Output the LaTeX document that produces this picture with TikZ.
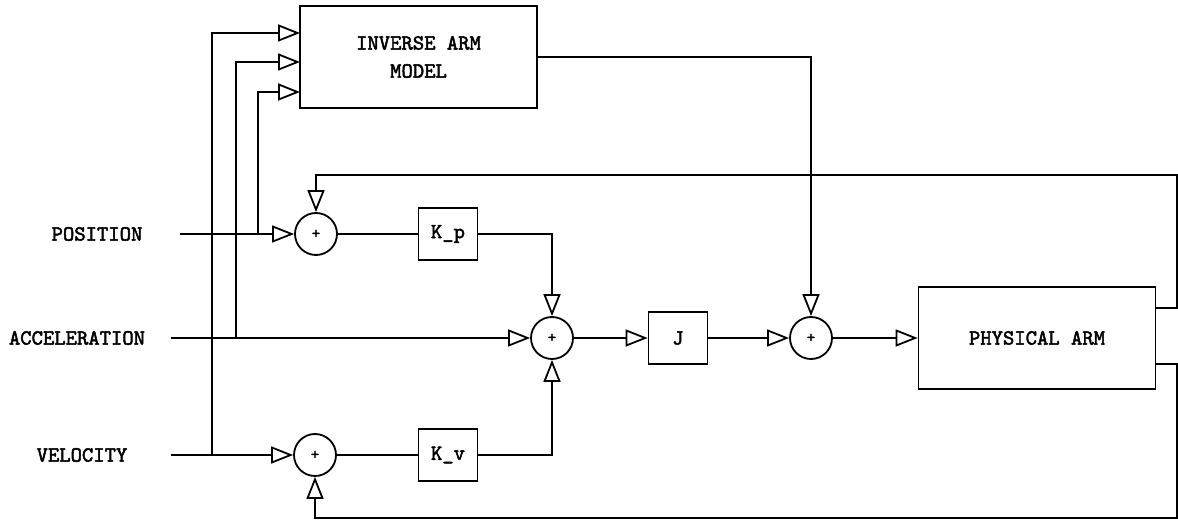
\documentclass[tikz,border=0pt]{standalone}
\usepackage{fontspec}
\setmonofont{lmmono10-regular.otf}[AutoFakeBold=2.2]
\usepackage{tikz}
\usetikzlibrary{arrows.meta,positioning,calc}

\begin{document}
\begin{tikzpicture}[x=0.5pt,y=-0.5pt,>={Triangle[open,length=11pt,width=8.5pt]},line width=0.9pt,
  lbl/.style={font=\ttfamily\bfseries\fontsize{10.8}{14}\selectfont},
  blk/.style={draw,lbl,minimum width=29.5pt,minimum height=26pt,inner sep=0pt},
  bigblk/.style={blk,minimum width=118.5pt,minimum height=51pt,align=center},
  sumnode/.style={draw,circle,minimum size=21pt,inner sep=0pt,font=\ttfamily\bfseries\fontsize{8}{8}\selectfont}]
  \useasboundingbox (0,0) rectangle (1178,523);
  % blocks
  \node[bigblk] (inv) at (418.5,57) {INVERSE ARM\\MODEL};
  \node[bigblk] (arm) at (1037,338) {PHYSICAL ARM};
  \node[sumnode] (s1) at (316,234) {+};
  \node[sumnode] (s2) at (552,338) {+};
  \node[sumnode] (s3) at (315,455) {+};
  \node[sumnode] (s4) at (811,338) {+};
  \node[blk] (kp) at (448,234) {K\_p};
  \node[blk] (kv) at (448,455) {K\_v};
  \node[blk] (j) at (678,338) {J};
  % inputs
  \node[lbl] (pos) at (97,234) {POSITION};
  \node[lbl] (acc) at (77,338) {ACCELERATION};
  \node[lbl] (vel) at (82,455) {VELOCITY};
  \coordinate (ptap) at (258,234);
  \coordinate (atap) at (236,338);
  \coordinate (vtap) at (212,455);
  \coordinate (ia1) at (300,33);
  \coordinate (ia2) at (300,62);
  \coordinate (ia3) at (300,92);
  \draw[->] (vtap) |- (ia1);
  \draw[->] (atap) |- (ia2);
  \draw[->] (ptap) |- (ia3);
  % forward paths
  \draw[->] ([xshift=15pt]pos.east) -- (s1);
  \draw (s1) -- (kp);
  \draw[->] (kp) -| (s2);
  \draw[->] ([xshift=9pt]acc.east) -- (s2);
  \draw[->] ([xshift=18pt]vel.east) -- (s3);
  \draw (s3) -- (kv);
  \draw[->] (kv) -| (s2);
  \draw[->] (s2) -- (j);
  \draw[->] (j) -- (s4);
  \draw[->] (s4) -- (arm);
  \draw[->] (inv) -| (s4);
  % feedback
  \coordinate (rtop) at (1177,175);
  \coordinate (rbot) at (1177,518);
  \draw[->] ([yshift=15pt]arm.east) -| (rtop) -| (s1);
  \draw[->] ([yshift=-13pt]arm.east) -| (rbot) -| (s3);
\end{tikzpicture}
\end{document}
